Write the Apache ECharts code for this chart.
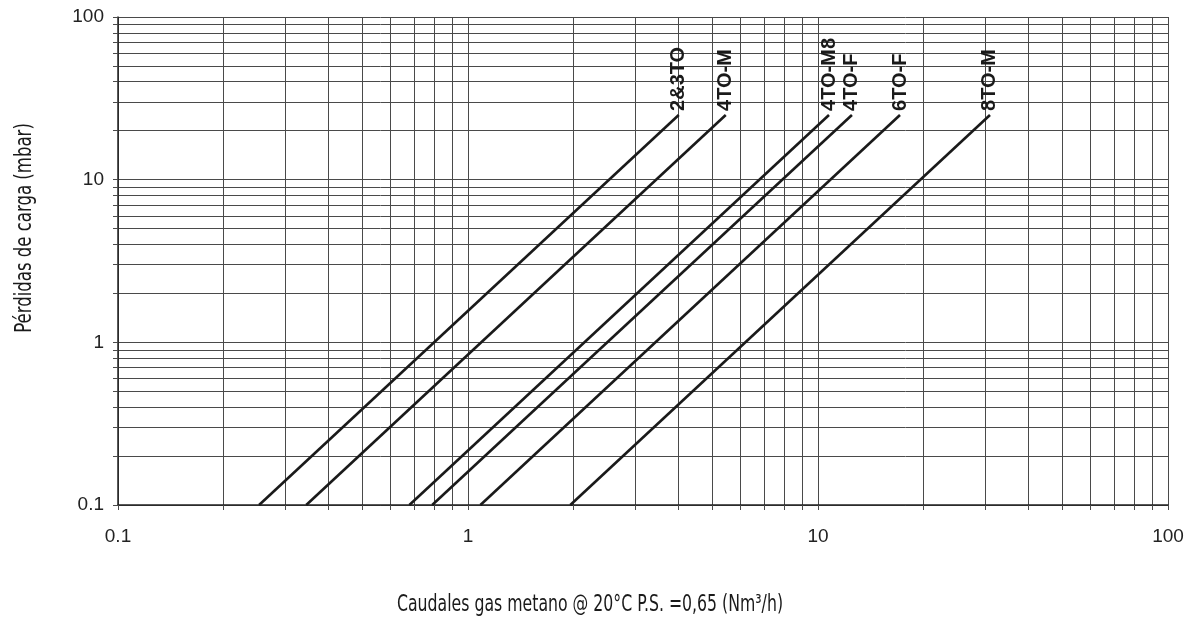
<!DOCTYPE html>
<html>
<head>
<meta charset="utf-8">
<script src="https://cdn.jsdelivr.net/npm/echarts@6/dist/echarts.min.js"></script>
<style>html,body{margin:0;padding:0;background:#fff}#c{width:1196px;height:627px}</style>
</head>
<body>
<div id="c"></div>
<script>
const seriesNames = ['2&3TO', '4TO-M', '4TO-M8', '4TO-F', '6TO-F', '8TO-M'];
const flowAtLow = [0.253, 0.345, 0.68, 0.79, 1.085, 1.96];
const flowAtHigh = [4.0, 5.45, 10.75, 12.5, 17.15, 31.0];
const pressureLow = 0.1;
const pressureHigh = 25;
const tickLabels = ['0.1', '1', '10', '100'];
const xTitle = 'Caudales gas metano @ 20°C P.S. =0,65 (Nm³/h)';
const yTitle = 'Pérdidas de carga (mbar)';

const SANS = '"Liberation Sans", Arial, sans-serif';
const NARROW = '"Liberation Sans Narrow", "DejaVu Sans Condensed", sans-serif';
const chart = echarts.init(document.getElementById('c'));
const gridColor = '#4a4a4a';
const fmt = v => { const s = tickLabels.find(t => Math.abs(parseFloat(t) - v) < 1e-9 * Math.max(1, v)); return s || ''; };
const series = seriesNames.map((n, i) => ({
  name: n,
  type: 'line',
  symbol: 'circle',
  symbolSize: 0,
  showSymbol: true,
  lineStyle: { color: '#1a1a1a', width: 2.6 },
  itemStyle: { color: '#1a1a1a' },
  z: 5,
  data: [
    [flowAtLow[i], pressureLow],
    { value: [flowAtHigh[i], pressureHigh],
      label: { show: true, formatter: n, position: 'top', rotate: 90, align: 'left', verticalAlign: 'middle', distance: 4,
        fontFamily: SANS, fontWeight: 'bold', fontSize: 20, color: '#1a1a1a' } }
  ]
}));

chart.setOption({
  animation: false,
  grid: { left: 118, right: 28, top: 17, bottom: 122 },
  graphic: [
    { type: 'text', x: 590, y: 605, scaleX: 0.76,
      style: { text: xTitle, font: '23px ' + NARROW, fill: '#1a1a1a', align: 'center', verticalAlign: 'middle' } },
    { type: 'text', x: 25, y: 228, rotation: Math.PI / 2, scaleX: 0.8,
      style: { text: yTitle, font: '23px ' + NARROW, fill: '#1a1a1a', align: 'center', verticalAlign: 'middle' } }
  ],
  xAxis: {
    type: 'log', logBase: 10, min: 0.1, max: 100,
    axisLine: { lineStyle: { color: '#222', width: 1.5 } },
    axisTick: { show: true, length: 5, inside: false, lineStyle: { color: gridColor } },
    minorTick: { show: true, splitNumber: 9, length: 5, lineStyle: { color: gridColor } },
    splitLine: { show: true, lineStyle: { color: gridColor, width: 1 } },
    minorSplitLine: { show: true, lineStyle: { color: gridColor, width: 1 } },
    axisLabel: { fontFamily: SANS, fontSize: 19, color: '#222', margin: 22, formatter: fmt }
  },
  yAxis: {
    type: 'log', logBase: 10, min: 0.1, max: 100,
    axisLine: { show: true, lineStyle: { color: '#222', width: 1.5 } },
    axisTick: { show: true, length: 5, lineStyle: { color: gridColor } },
    minorTick: { show: true, splitNumber: 9, length: 5, lineStyle: { color: gridColor } },
    splitLine: { show: true, lineStyle: { color: gridColor, width: 1 } },
    minorSplitLine: { show: true, lineStyle: { color: gridColor, width: 1 } },
    axisLabel: { fontFamily: SANS, fontSize: 19, color: '#222', margin: 14, formatter: fmt }
  },
  series: series
});
</script>
</body>
</html>
